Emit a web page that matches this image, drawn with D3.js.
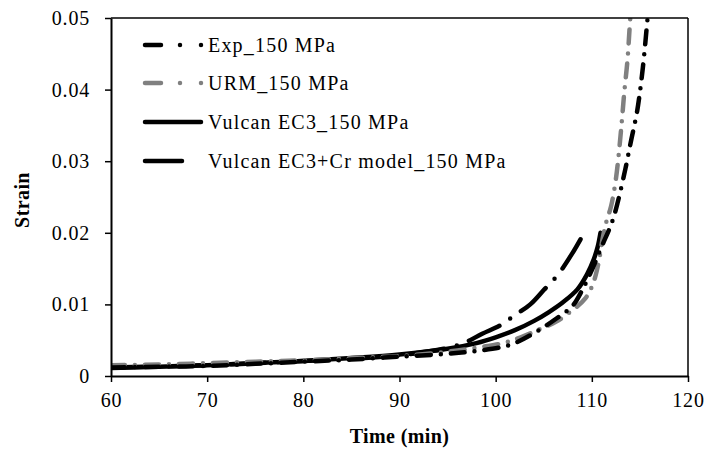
<!DOCTYPE html>
<html>
<head>
<meta charset="utf-8">
<script src="https://cdn.jsdelivr.net/npm/d3@7"></script>
<style>
  body { margin: 0; background: #fff; }
  text { font-family: "Liberation Serif", "Times New Roman", serif; }
</style>
</head>
<body>
<div id="chart"></div>
<script>
// chart size
const width = 709;
const height = 450;
const margin = { top: 18, left: 111, right: 21, bottom: 74 };

// data: time (min) and strain
const expTime = [60, 65, 70, 75, 80, 85, 90, 95, 98, 101.4, 104, 106.5, 108, 109, 110, 111, 112.1, 112.7, 113.5, 114.1, 114.7, 115.3, 115.8, 116.1];
const expStrain = [0.0012, 0.0013, 0.0014, 0.0017, 0.002, 0.0023, 0.0027, 0.0031, 0.0035, 0.0043, 0.006, 0.0082, 0.0098, 0.012, 0.0148, 0.018, 0.0215, 0.0243, 0.029, 0.033, 0.0369, 0.043, 0.05, 0.054];

const urmTime = [60, 65, 70, 75, 80, 85, 90, 95, 98.7, 100.8, 102.6, 104.7, 106.3, 108, 109.3, 110.1, 110.7, 111.1, 111.5, 112, 112.5, 112.8, 113.1, 113.4, 113.7, 114, 114.2];
const urmStrain = [0.0015, 0.0016, 0.0018, 0.002, 0.0022, 0.0025, 0.0028, 0.0034, 0.0041, 0.0046, 0.0054, 0.0066, 0.0076, 0.0092, 0.0108, 0.0128, 0.0158, 0.019, 0.0215, 0.0237, 0.0275, 0.031, 0.0353, 0.04, 0.044, 0.05, 0.053];

const ec3Time = [60, 65, 70, 75, 80, 85, 90, 95, 98, 100, 102, 104, 105.5, 107, 108.5, 109.5, 110.2, 110.6, 110.9];
const ec3Strain = [0.0011, 0.0013, 0.0015, 0.0018, 0.0021, 0.0025, 0.003, 0.0038, 0.0046, 0.0054, 0.0064, 0.0077, 0.0089, 0.0103, 0.0121, 0.0142, 0.0163, 0.018, 0.02];

const crTime = [60, 70, 80, 85, 90, 94.6, 96.7, 98.6, 100.5, 102, 103.6, 105, 106.5, 108, 109.2];
const crStrain = [0.0012, 0.0015, 0.0021, 0.0024, 0.0029, 0.0038, 0.0046, 0.0059, 0.0071, 0.0085, 0.01, 0.012, 0.0142, 0.0172, 0.02];

const seriesNames = ["Exp_150 MPa", "URM_150 MPa", "Vulcan EC3_150 MPa", "Vulcan EC3+Cr model_150 MPa"];
const xTicks = [60, 70, 80, 90, 100, 110, 120];
const yTicks = [0, 0.01, 0.02, 0.03, 0.04, 0.05];

// line styles for each series
const styles = [
    { color: "#000", dash: "14,10,0,10", legendDash: "16,19,0,21,0,40" },
    { color: "#808080", dash: "14,10,0,10", legendDash: "16,19,0,21,0,40" },
    { color: "#000", dash: null, legendDash: null },
    { color: "#000", dash: "34,13,0,13", legendDash: "37,22,0,40" }
];

const series = [
    expTime.map((t, i) => ({ t: t, s: expStrain[i] })),
    urmTime.map((t, i) => ({ t: t, s: urmStrain[i] })),
    ec3Time.map((t, i) => ({ t: t, s: ec3Strain[i] })),
    crTime.map((t, i) => ({ t: t, s: crStrain[i] }))
];

const svg = d3.select("#chart")
    .append("svg")
    .attr("width", width)
    .attr("height", height);

const xScale = d3.scaleLinear()
    .domain([60, 120])
    .range([margin.left, width - margin.right]);

const yScale = d3.scaleLinear()
    .domain([0, 0.05])
    .range([height - margin.bottom, margin.top]);

svg.append("clipPath")
    .attr("id", "plotclip")
    .append("rect")
    .attr("x", margin.left)
    .attr("y", margin.top)
    .attr("width", width - margin.left - margin.right)
    .attr("height", height - margin.top - margin.bottom);

// curves
const line = d3.line()
    .x(d => xScale(d.t))
    .y(d => yScale(d.s))
    .curve(d3.curveCatmullRom.alpha(0.5));

// draw Cr first, then EC3, then URM, then Exp
const drawOrder = [3, 2, 1, 0];
drawOrder.forEach(i => {
    svg.append("path")
        .datum(series[i])
        .attr("clip-path", "url(#plotclip)")
        .attr("fill", "none")
        .attr("stroke", styles[i].color)
        .attr("stroke-width", 4.5)
        .attr("stroke-linecap", "round")
        .attr("stroke-dasharray", styles[i].dash)
        .attr("d", line);
});

// frame on top and right
svg.append("line")
    .attr("x1", margin.left).attr("x2", width - margin.right)
    .attr("y1", margin.top).attr("y2", margin.top)
    .attr("stroke", "#000").attr("stroke-width", 1.5);
svg.append("line")
    .attr("x1", width - margin.right).attr("x2", width - margin.right)
    .attr("y1", margin.top).attr("y2", height - margin.bottom)
    .attr("stroke", "#000").attr("stroke-width", 1.5);

// axes
svg.append("g")
    .attr("transform", `translate(0,${height - margin.bottom})`)
    .call(d3.axisBottom(xScale).tickValues(xTicks).tickSize(6).tickSizeOuter(0).tickPadding(11).tickFormat(d3.format("d")));

svg.append("g")
    .attr("transform", `translate(${margin.left},0)`)
    .call(d3.axisLeft(yScale).tickValues(yTicks).tickSize(6).tickSizeOuter(0).tickPadding(15).tickFormat(d => d === 0 ? "0" : d3.format(".2f")(d)));

svg.selectAll(".domain").attr("stroke", "#000").attr("stroke-width", 2);
svg.selectAll(".tick line").attr("stroke", "#000").attr("stroke-width", 1.5);
svg.selectAll(".tick text")
    .attr("font-size", 20)
    .attr("letter-spacing", 0.8)
    .attr("fill", "#000");

// axis titles
svg.append("text")
    .attr("x", (margin.left + width - margin.right) / 2)
    .attr("y", 443)
    .attr("text-anchor", "middle")
    .attr("font-weight", "bold")
    .attr("font-size", 20)
    .attr("letter-spacing", 0.4)
    .text("Time (min)");

svg.append("text")
    .attr("transform", `translate(29,${(margin.top + height - margin.bottom) / 2 + 3})rotate(-90)`)
    .attr("text-anchor", "middle")
    .attr("font-weight", "bold")
    .attr("font-size", 20)
    .attr("letter-spacing", 0.4)
    .text("Strain");

// legend
const legend = svg.append("g");
const legendY = [45, 83, 122, 161];
seriesNames.forEach((name, i) => {
    const lineEnd = i === 2 ? 201 : 202;
    legend.append("line")
        .attr("x1", 145).attr("x2", lineEnd)
        .attr("y1", legendY[i]).attr("y2", legendY[i])
        .attr("stroke", styles[i].color)
        .attr("stroke-width", 4.5)
        .attr("stroke-linecap", "round")
        .attr("stroke-dasharray", styles[i].legendDash);
    legend.append("text")
        .attr("x", 208)
        .attr("y", legendY[i] + 7)
        .attr("font-size", 20)
        .attr("letter-spacing", 1.2)
        .text(name);
});
</script>
</body>
</html>
